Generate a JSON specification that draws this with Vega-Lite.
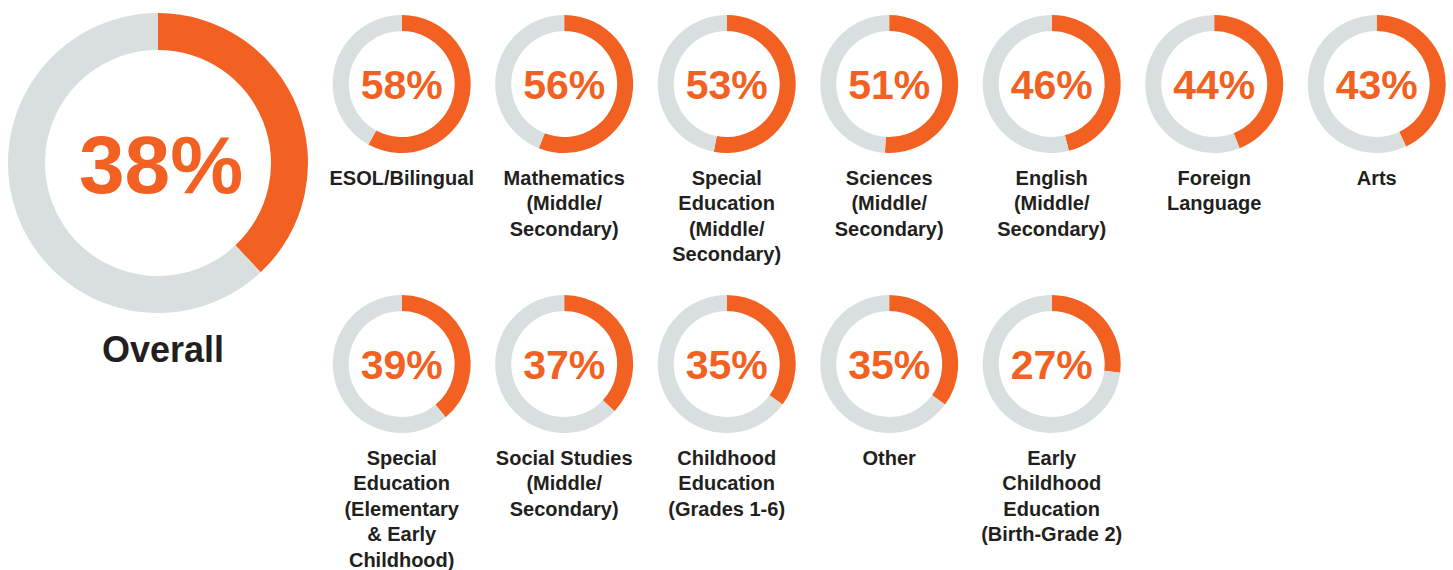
{
  "$schema": "https://vega.github.io/schema/vega-lite/v6.json",
  "padding": {"left": 8, "top": 13, "right": 0, "bottom": 0},
  "background": "white",
  "datasets": {
    "donuts": [
      {"name": "Overall", "seg": "Yes", "share": 0.38},
      {"name": "Overall", "seg": "No", "share": 0.62},
      {"name": "ESOL/Bilingual", "seg": "Yes", "share": 0.58},
      {"name": "ESOL/Bilingual", "seg": "No", "share": 0.42},
      {"name": "Mathematics|(Middle/|Secondary)", "seg": "Yes", "share": 0.56},
      {"name": "Mathematics|(Middle/|Secondary)", "seg": "No", "share": 0.44},
      {"name": "Special|Education|(Middle/|Secondary)", "seg": "Yes", "share": 0.53},
      {"name": "Special|Education|(Middle/|Secondary)", "seg": "No", "share": 0.47},
      {"name": "Sciences|(Middle/|Secondary)", "seg": "Yes", "share": 0.51},
      {"name": "Sciences|(Middle/|Secondary)", "seg": "No", "share": 0.49},
      {"name": "English|(Middle/|Secondary)", "seg": "Yes", "share": 0.46},
      {"name": "English|(Middle/|Secondary)", "seg": "No", "share": 0.54},
      {"name": "Foreign|Language", "seg": "Yes", "share": 0.44},
      {"name": "Foreign|Language", "seg": "No", "share": 0.56},
      {"name": "Arts", "seg": "Yes", "share": 0.43},
      {"name": "Arts", "seg": "No", "share": 0.57},
      {"name": "Special|Education|(Elementary|& Early|Childhood)", "seg": "Yes", "share": 0.39},
      {"name": "Special|Education|(Elementary|& Early|Childhood)", "seg": "No", "share": 0.61},
      {"name": "Social Studies|(Middle/|Secondary)", "seg": "Yes", "share": 0.37},
      {"name": "Social Studies|(Middle/|Secondary)", "seg": "No", "share": 0.63},
      {"name": "Childhood|Education|(Grades 1-6)", "seg": "Yes", "share": 0.35},
      {"name": "Childhood|Education|(Grades 1-6)", "seg": "No", "share": 0.65},
      {"name": "Other", "seg": "Yes", "share": 0.35},
      {"name": "Other", "seg": "No", "share": 0.65},
      {"name": "Early|Childhood|Education|(Birth-Grade 2)", "seg": "Yes", "share": 0.27},
      {"name": "Early|Childhood|Education|(Birth-Grade 2)", "seg": "No", "share": 0.73}
    ]
  },
  "spacing": 13.7,
  "hconcat": [
    {
      "data": {"name": "donuts"},
      "transform": [{"filter": "datum.name === 'Overall'"}],
      "width": 300,
      "height": 300,
      "title": {
        "text": "Overall",
        "orient": "bottom",
        "anchor": "middle",
        "offset": 21,
        "dx": 5,
        "fontSize": 36,
        "fontWeight": "bold",
        "font": "Liberation Sans, Arial, sans-serif",
        "color": "#231f20"
      },
      "layer": [
        {
          "mark": {"type": "arc", "outerRadius": 150, "innerRadius": 113},
          "encoding": {
            "theta": {"field": "share", "type": "quantitative", "stack": true, "scale": {"domain": [0, 1]}},
            "color": {"field": "seg", "type": "nominal", "scale": {"domain": ["Yes", "No"], "range": ["#f26122", "#d9dfdf"]}, "legend": null},
            "order": {"field": "seg", "type": "ordinal", "sort": "descending"}
          }
        },
        {
          "transform": [{"filter": "datum.seg === 'Yes'"}],
          "mark": {"type": "text", "fontSize": 82, "fontWeight": "bold", "font": "Liberation Sans, Arial, sans-serif", "color": "#f26122", "dy": 5, "dx": 3},
          "encoding": {
            "text": {"field": "share", "type": "quantitative", "format": ".0%"}
          }
        }
      ]
    },
    {
      "data": {"name": "donuts"},
      "transform": [{"filter": "datum.name !== 'Overall'"}],
      "columns": 7,
      "spacing": {"column": 2.5, "row": 2},
      "facet": {
        "field": "name",
        "type": "nominal",
        "sort": [
          "ESOL/Bilingual",
          "Mathematics|(Middle/|Secondary)",
          "Special|Education|(Middle/|Secondary)",
          "Sciences|(Middle/|Secondary)",
          "English|(Middle/|Secondary)",
          "Foreign|Language",
          "Arts",
          "Special|Education|(Elementary|& Early|Childhood)",
          "Social Studies|(Middle/|Secondary)",
          "Childhood|Education|(Grades 1-6)",
          "Other",
          "Early|Childhood|Education|(Birth-Grade 2)"
        ],
        "header": {
          "title": null,
          "labelOrient": "bottom",
          "labelExpr": "split(datum.value, '|')",
          "labelFont": "Liberation Sans, Arial, sans-serif",
          "labelFontSize": 20,
          "labelFontWeight": "bold",
          "labelColor": "#231f20",
          "labelLineHeight": 25.5,
          "labelPadding": 13.5,
          "labelBaseline": "top"
        }
      },
      "spec": {
        "width": 160,
        "height": 142,
        "layer": [
          {
            "mark": {"type": "arc", "outerRadius": 69, "innerRadius": 53},
            "encoding": {
              "theta": {"field": "share", "type": "quantitative", "stack": true, "scale": {"domain": [0, 1]}},
              "color": {"field": "seg", "type": "nominal", "scale": {"domain": ["Yes", "No"], "range": ["#f26122", "#d9dfdf"]}, "legend": null},
              "order": {"field": "seg", "type": "ordinal", "sort": "descending"}
            }
          },
          {
            "transform": [{"filter": "datum.seg === 'Yes'"}],
            "mark": {"type": "text", "fontSize": 41, "fontWeight": "bold", "font": "Liberation Sans, Arial, sans-serif", "color": "#f26122", "dy": 2.5},
            "encoding": {
              "text": {"field": "share", "type": "quantitative", "format": ".0%"}
            }
          }
        ]
      }
    }
  ],
  "config": {
    "view": {"stroke": null}
  }
}
